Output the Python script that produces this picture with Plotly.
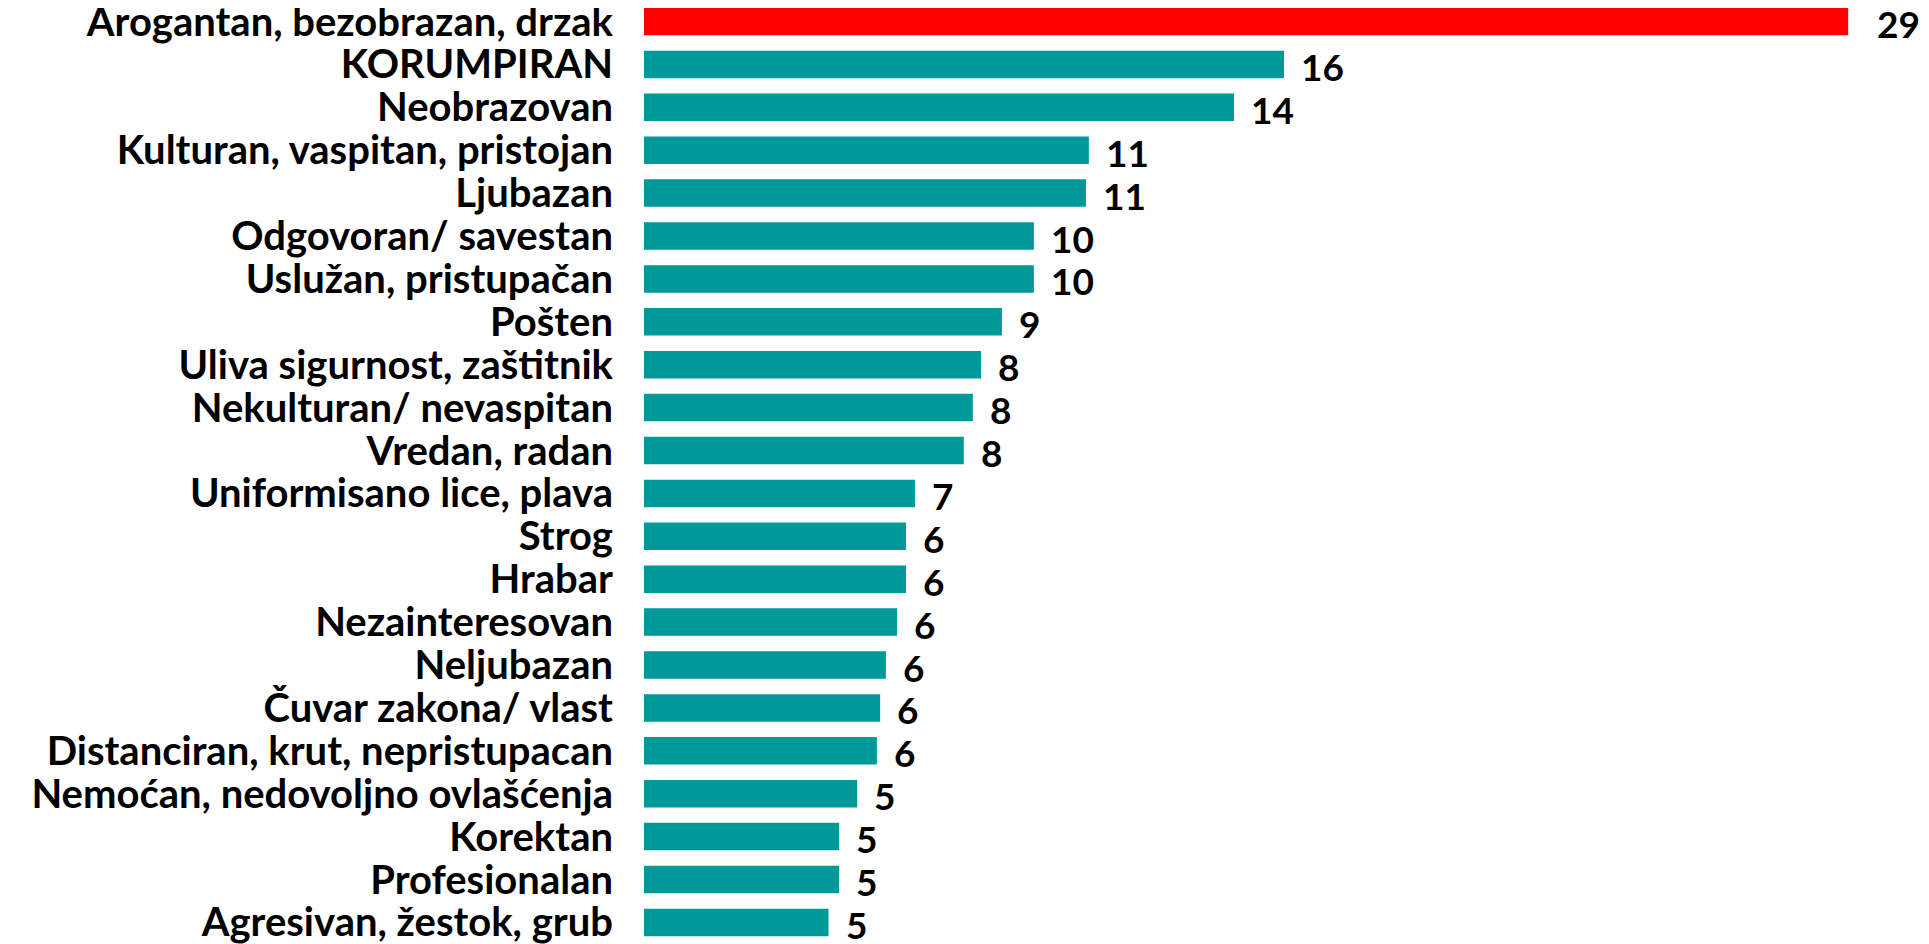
import plotly.graph_objects as go

categories = [
    "Arogantan, bezobrazan, drzak",
    "KORUMPIRAN",
    "Neobrazovan",
    "Kulturan, vaspitan, pristojan",
    "Ljubazan",
    "Odgovoran/ savestan",
    "Uslužan, pristupačan",
    "Pošten",
    "Uliva sigurnost, zaštitnik",
    "Nekulturan/ nevaspitan",
    "Vredan, radan",
    "Uniformisano lice, plava",
    "Strog",
    "Hrabar",
    "Nezainteresovan",
    "Neljubazan",
    "Čuvar zakona/ vlast",
    "Distanciran, krut, nepristupacan",
    "Nemoćan, nedovoljno ovlašćenja",
    "Korektan",
    "Profesionalan",
    "Agresivan, žestok, grub",
]

values = [29.37, 15.61, 14.39, 10.85, 10.78, 9.51, 9.51, 8.73, 8.22, 8.02, 7.80,
          6.61, 6.39, 6.39, 6.17, 5.90, 5.76, 5.68, 5.20, 4.76, 4.76, 4.50]

labels = ["29", "16", "14", "11", "11", "10", "10", "9", "8", "8", "8",
          "7", "6", "6", "6", "6", "6", "6", "5", "5", "5", "5"]

RED = "#FF0000"
TEAL = "#009999"
colors = [RED] + [TEAL] * (len(categories) - 1)

W, H = 1921, 936
ML = 636
PX_PER_UNIT = 41.0
BAND = 42.9
TOP_OFFSET = 13.5

fig = go.Figure()
fig.add_trace(go.Bar(
    x=values,
    y=categories,
    orientation="h",
    marker=dict(color=colors, line=dict(width=0)),
    hoverinfo="skip",
))

for i, (cat, v, lab) in enumerate(zip(categories, values, labels)):
    fig.add_annotation(
        x=v, y=cat, text=lab, showarrow=False,
        xanchor="left", yanchor="middle",
        xshift=27 if i == 0 else 15,
        yshift=-2,
        font=dict(family="Lato", size=37, color="black", weight="bold"),
    )

top = -TOP_OFFSET / BAND
fig.update_layout(
    width=W, height=H,
    margin=dict(l=ML, r=0, t=0, b=0, autoexpand=False),
    paper_bgcolor="white", plot_bgcolor="white",
    bargap=0.36,
    showlegend=False,
    xaxis=dict(range=[0, (W - ML) / PX_PER_UNIT], visible=False, fixedrange=True),
    yaxis=dict(
        range=[top + H / BAND, top],
        type="category",
        tickmode="array", tickvals=categories, ticktext=categories,
        automargin=False,
        showgrid=False, zeroline=False, showline=False,
        ticks="outside", ticklen=22, tickcolor="rgba(0,0,0,0)",
        tickfont=dict(family="Lato", size=40, color="black", weight="bold"),
    ),
)

fig.write_html("out.html")
